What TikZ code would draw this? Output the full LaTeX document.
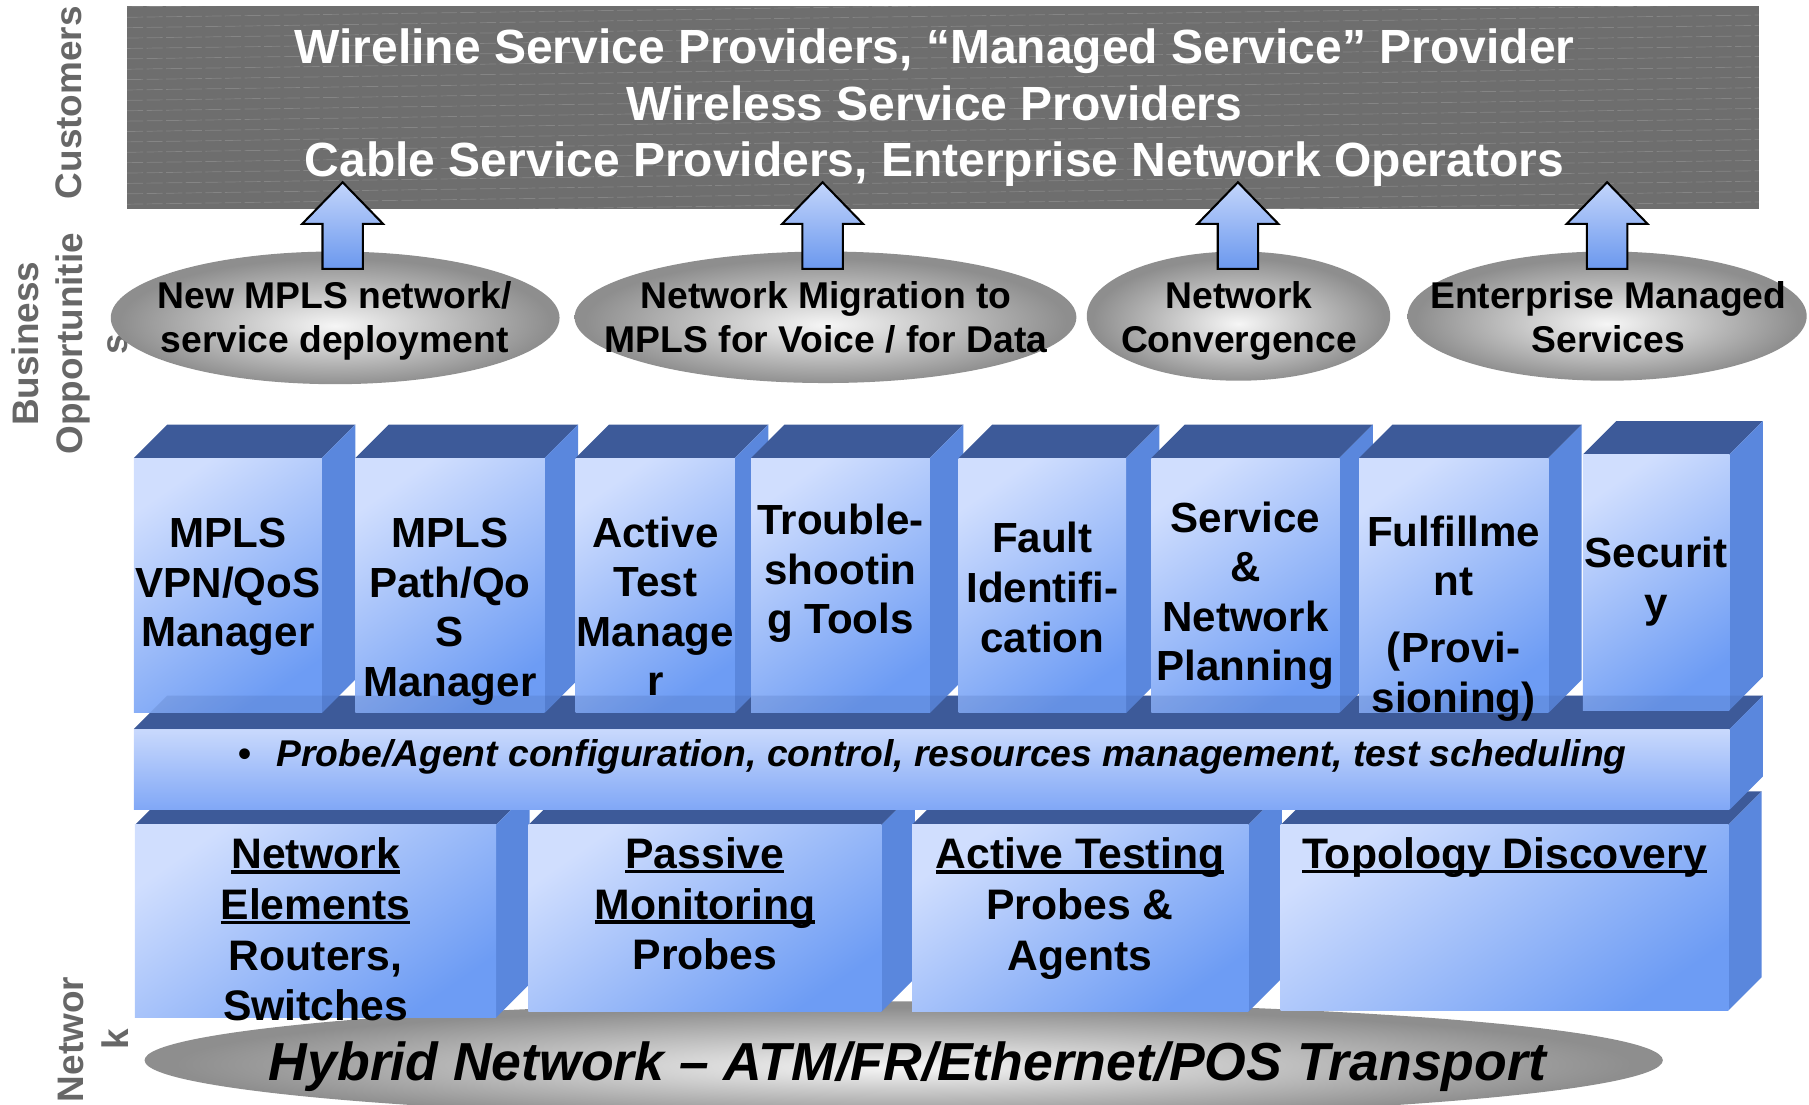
\documentclass[tikz,border=0pt]{standalone}
\usepackage{fontspec}
\setmainfont{Liberation Sans}
\usetikzlibrary{shapes.geometric,calc}
\definecolor{custgray}{HTML}{6E6E6E}
\definecolor{labgray}{HTML}{676767}
\definecolor{topblue}{HTML}{3D5A99}
\definecolor{sideblue}{HTML}{5A87DD}
\definecolor{frontlight}{HTML}{D0DEFE}
\definecolor{frontdark}{HTML}{6D9CF4}
\definecolor{slablight}{HTML}{C9D9FD}
\definecolor{slabdark}{HTML}{80A7F6}
\definecolor{arrlight}{HTML}{C3D5FB}
\definecolor{arrdark}{HTML}{6B98EE}
\definecolor{ovalin}{HTML}{F6F6F6}
\definecolor{ovalout}{HTML}{8E8E8E}
\pgfdeclareradialshading{ovalshade}{\pgfpoint{0bp}{-3bp}}{color(0bp)=(ovalin); color(24bp)=(ovalout); color(50bp)=(ovalout)}
\newsavebox\ulbox
\newcommand\ulw[1]{\sbox\ulbox{#1}\rlap{\rule[-2.2pt]{\wd\ulbox}{1.6pt}}\usebox\ulbox}
% top and side faces of a 3D block: x1 x2 ytop ybot
\newcommand\cubeback[4]{%
  \fill[topf] (#1,#3) -- (#1+29,#3-29) -- (#2+29,#3-29) -- (#2,#3) -- cycle;
  \fill[sidef] (#2,#3) -- (#2+29,#3-29) -- (#2+29,#4-29) -- (#2,#4) -- cycle;
  \shade[front] (#1,#3) rectangle (#2,#4);}
\begin{document}
\begin{tikzpicture}[x=0.5pt,y=-0.5pt,
  topf/.style={fill=topblue},
  sidef/.style={fill=sideblue},
  front/.style={top color=frontlight, bottom color=frontdark, shading angle=35},
  slabfront/.style={top color=slablight, bottom color=slabdark},
  oval/.style={ellipse, inner sep=0pt, shading=ovalshade, draw=none},
  ovaltext/.style={font=\bfseries\fontsize{16.15pt}{19pt}\selectfont, align=center, inner sep=0pt},
  custtext/.style={font=\bfseries\fontsize{20.8pt}{24.5pt}\selectfont, align=center, text=white, inner sep=0pt},
  lab/.style={font=\bfseries\fontsize{16pt}{19.5pt}\selectfont, align=center, text=labgray, inner sep=0pt, rotate=90},
  boxtext/.style={font=\bfseries\fontsize{18.25pt}{21.5pt}\selectfont, align=center, inner sep=0pt},
  lowtext/.style={font=\bfseries\fontsize{18.5pt}{22pt}\selectfont, align=center, inner sep=0pt},
  blockarrow/.style={top color=arrlight, bottom color=arrdark, draw=black, line width=0.9pt, line join=miter},
  uparr/.pic={\path[blockarrow] (-17.5,0) -- (-17.5,-39) -- (-35,-39) -- (0,-75) -- (35,-39) -- (17.5,-39) -- (17.5,0) -- cycle;}
]
\useasboundingbox (0,0) rectangle (1568,957);
\clip (0,0) rectangle (1568,957);

% ---------- Customers ----------
\fill[custgray] (110,5) rectangle (1525,181);
\begin{scope}
  \clip (110,5) rectangle (1525,181);
  \foreach \k in {0,...,23}{
    \draw[white, opacity=0.16, line width=0.3pt, dash pattern=on 7pt off 1.5pt] (110,\k*9+6) -- (1525,\k*9-14);
  }
\end{scope}
\node[custtext] (cust) at (810,93.6) {Wireline Service Providers, “Managed Service” Provider\\Wireless Service Providers\\Cable Service Providers, Enterprise Network Operators};

% ---------- side labels ----------
\node[lab] (lcust) at (60,89) {Customers};
\node[lab] (lbus) at (60.5,298) {Business\\Opportunitie\\s};
\node[lab] (lnet) at (80.75,901) {Networ\\k};

% ---------- business opportunities ----------
\node[oval, minimum width=194.5pt, minimum height=57.5pt] (o1) at (290.5,275.5) {};
\node[oval, minimum width=217.5pt, minimum height=57pt] (o2) at (715.5,275) {};
\node[oval, minimum width=131.5pt, minimum height=56pt] (o3) at (1073.5,274) {};
\node[oval, minimum width=173pt, minimum height=56pt] (o4) at (1393,274) {};
\node[ovaltext] (t1) at (290,278.2) {New MPLS network/\\service deployment};
\node[ovaltext] (t2) at (716,274.8) {Network Migration to\\MPLS for Voice / for Data};
\node[ovaltext] (t3) at (1074,278.2) {Network\\Convergence};
\node[ovaltext] (t4) at (1394,274.8) {Enterprise Managed\\Services};

\pic at (297,233) {uparr};
\pic at (713,233) {uparr};
\pic at (1073,233) {uparr};
\pic at (1393,233) {uparr};

% ---------- network ----------
\node[oval, minimum width=658pt, minimum height=51pt] (hyb) at (783.3,919) {};

% bottom row blocks
\cubeback{117}{430}{715}{882}
\cubeback{458}{764}{715}{877}
\cubeback{790.5}{1082}{715}{877}
\cubeback{1110}{1498}{715}{876}

% middle slab
\fill[topf] (116,632) -- (145,603) -- (1528,603) -- (1499,632) -- cycle;
\fill[sidef] (1499,632) -- (1528,603) -- (1528,673) -- (1499,702) -- cycle;
\shade[slabfront] (116,632) rectangle (1499,702);

% top row blocks
\cubeback{116}{279}{397}{618}
\cubeback{308}{472}{397}{618}
\cubeback{499}{637}{397}{618}
\cubeback{651}{806}{397}{618}
\cubeback{831}{976}{397}{618}
\cubeback{998}{1161}{397}{618}
\cubeback{1178}{1342}{397}{618}
\cubeback{1372}{1499}{394}{615.5}
\fill[topblue, opacity=0.18] (116,632) -- (145,603) -- (1528,603) -- (1499,632) -- cycle;

% texts of the blocks
\node[boxtext] (b1) at (197.5,508.8) {MPLS\\VPN/QoS\\Manager};
\node[boxtext] (b2) at (390,530.3) {MPLS\\Path/Qo\\S\\Manager};
\node[boxtext] (b3) at (568,525.5) {Active\\Test\\Manage\\r};
\node[boxtext] (b4) at (728.5,497) {Trouble-\\shootin\\g Tools};
\node[boxtext] (b5) at (903.5,509.2) {Fault\\Identifi-\\cation};
\node[boxtext] (b6) at (1079.5,516.3) {Service\\\&\\Network\\Planning};
\node[boxtext] (b7) at (1260,536) {Fulfillme\\nt\\[7.5pt](Provi-\\sioning)};
\node[boxtext] (b8) at (1435.5,504.3) {Securit\\y};

\node[font=\bfseries\fontsize{16.15pt}{19pt}\selectfont, anchor=west, inner sep=0pt] (slab) at (206,656.2) {•\hspace{11pt}\textit{Probe/Agent configuration, control, resources management, test scheduling}};

\node[lowtext] (n1) at (273.5,805.6) {\ulw{Network}\\\ulw{Elements}\\Routers,\\Switches};
\node[lowtext] (n2) at (611,783.4) {\ulw{Passive}\\\ulw{Monitoring}\\Probes};
\node[lowtext] (n3) at (936,787.3) {\ulw{Active Testing}\\Probes \&\\Agents};
\node[lowtext] (n4) at (1304,743) {\ulw{Topology Discovery}};

\node[font=\bfseries\itshape\fontsize{23.2pt}{27pt}\selectfont, inner sep=0pt] (hybt) at (786.5,924.6) {Hybrid Network – ATM/FR/Ethernet/POS Transport};
\end{tikzpicture}
\end{document}
